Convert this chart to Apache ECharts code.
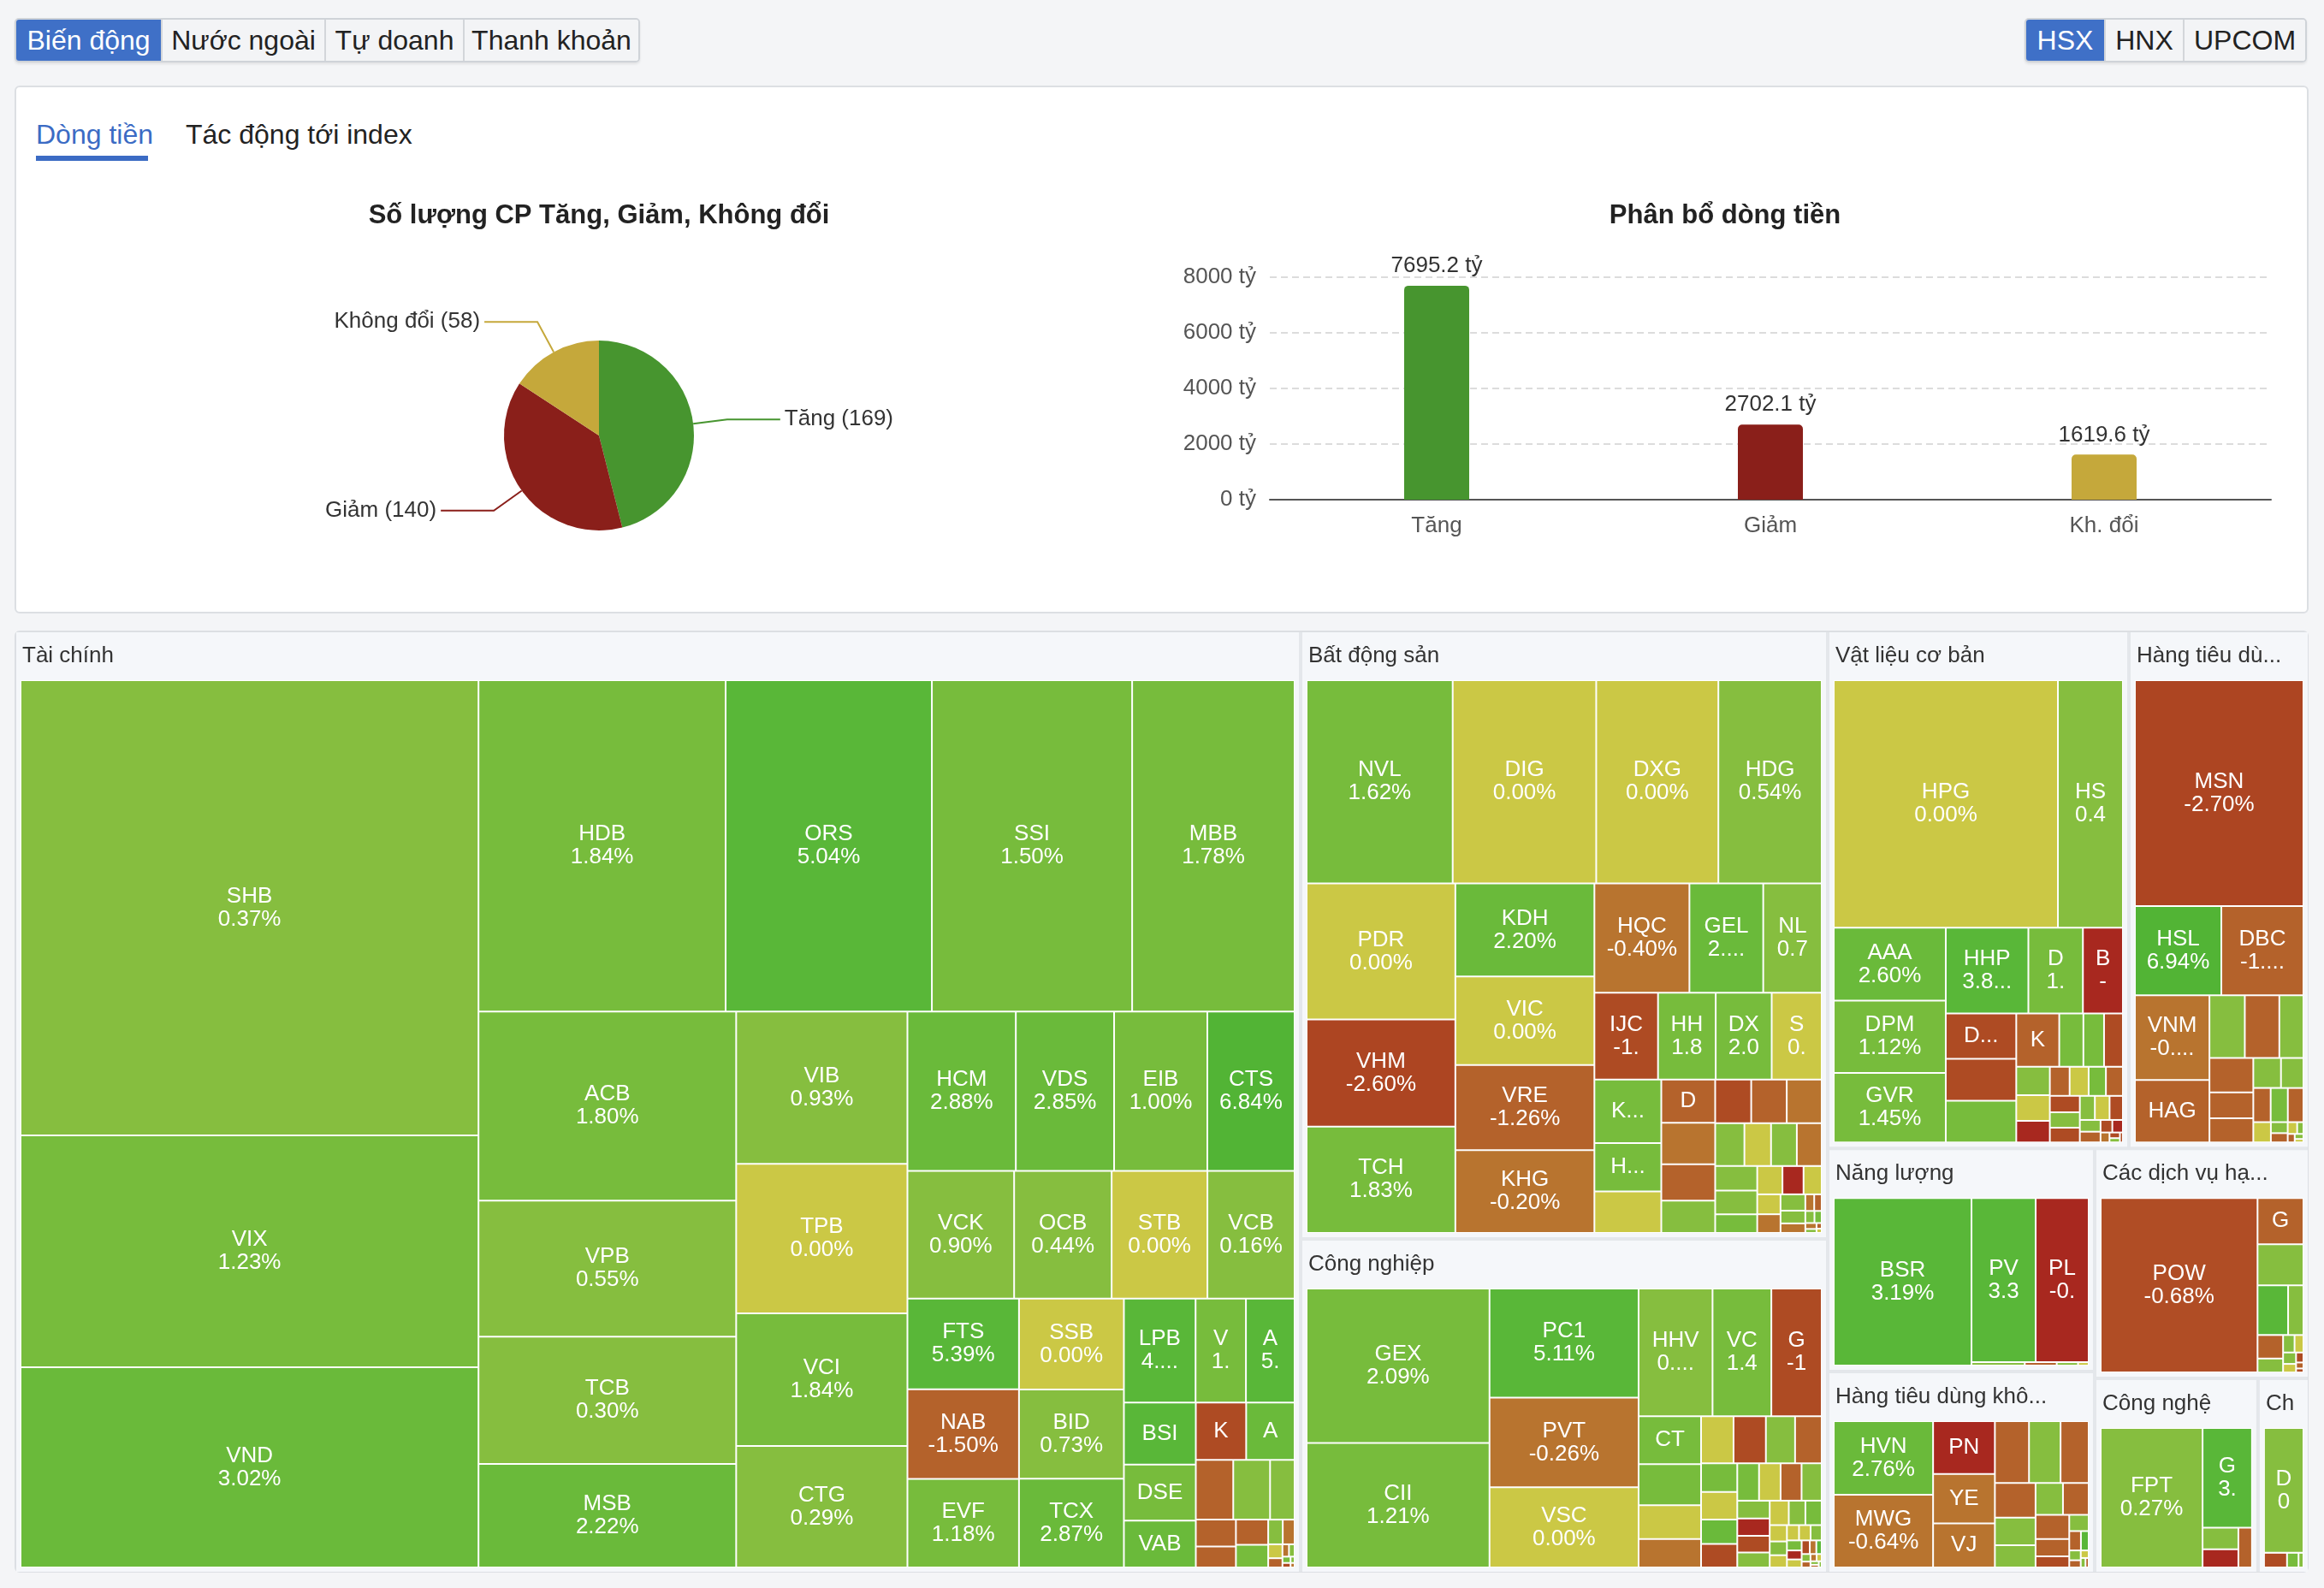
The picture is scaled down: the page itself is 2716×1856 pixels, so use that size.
<!DOCTYPE html>
<html>
<head>
<meta charset="utf-8">
<script src="https://cdn.jsdelivr.net/npm/echarts@6/dist/echarts.min.js"></script>
<style>
  html, body { margin: 0; padding: 0; }
  body { width: 2716px; height: 1856px; background: #f4f5f7; position: relative; overflow: hidden;
         font-family: "Liberation Sans", Arial, sans-serif; }
  .tabs { position: absolute; top: 21px; height: 52px; display: flex; box-sizing: border-box;
          border: 2px solid #cfd3d8; border-radius: 5px; overflow: hidden; box-shadow: 0 2px 3px rgba(0,0,0,0.08); }
  .tabs div { display: flex; align-items: center; justify-content: center; font-size: 32px; color: #222;
              background: #f3f4f6; border-left: 2px solid #d3d6da; box-sizing: border-box; }
  .tabs div:first-child { border-left: none; }
  .tabs div.on { background: #3f70c7; color: #fff; }
  .card { position: absolute; left: 17px; width: 2681px; box-sizing: border-box; background: #fff;
          border: 2px solid #dcdfe3; border-radius: 6px; }
  .sub { position: absolute; top: 138px; font-size: 32px; line-height: 38px; color: #222; }
  .sub.on { color: #3b6bc4; }
  .bar-on { position: absolute; left: 42px; top: 182px; width: 131px; height: 6px; background: #3b6bc4; }
  #chart { position: absolute; left: 0; top: 0; width: 2716px; height: 1856px; }
</style>
</head>
<body>
<div class="tabs" style="left:17px;width:731px">
  <div class="on" style="width:169px">Biến động</div>
  <div style="width:191px">Nước ngoài</div>
  <div style="width:162px">Tự doanh</div>
  <div style="width:205px">Thanh khoản</div>
</div>
<div class="tabs" style="left:2366px;width:330px">
  <div class="on" style="width:91px">HSX</div>
  <div style="width:92px">HNX</div>
  <div style="width:143px">UPCOM</div>
</div>
<div class="card" style="top:100px;height:617px"></div>
<div class="card" style="top:737px;height:1101px"></div>
<div class="sub on" style="left:42px">Dòng tiền</div>
<div class="sub" style="left:217px">Tác động tới index</div>
<div class="bar-on"></div>
<div id="chart"></div>
<script>
const FONT = '"Liberation Sans", Arial, sans-serif';

// so luong CP tang / giam / khong doi
const pieNames = ['Tăng', 'Giảm', 'Không đổi'];
const pieCounts = [169, 140, 58];
const upDownColors = ['#47952f', '#8a1f1a', '#c5a83b'];

// phan bo dong tien (ty)
const barCats = ['Tăng', 'Giảm', 'Kh. đổi'];
const barValues = [7695.2, 2702.1, 1619.6];

// treemap: nganh
const sectorNames = ['Tài chính', 'Bất động sản', 'Công nghiệp', 'Vật liệu cơ bản', 'Hàng tiêu dùng thiết yếu',
  'Năng lượng', 'Hàng tiêu dùng không thiết yếu', 'Các dịch vụ hạ tầng', 'Công nghệ', 'Chăm sóc sức khỏe'];
const sectorValue = [16563, 4380, 2409, 2130, 1277, 814, 736, 675, 435, 137];

const tcCodes = ['SHB','VIX','VND','HDB','ORS','SSI','MBB','ACB','VPB','TCB','MSB','VIB','TPB','VCI','CTG','HCM','VDS','EIB',
  'CTS','VCK','OCB','STB','VCB','FTS','NAB','EVF','SSB','BID','TCX','LPB','VMS','AGR','BSI','DSE','VAB','KLB','APG','BVH',
  'MIG','BMI','TVS','FIT','DSC','BIC','PGI','TVB','SBS','TCI','AAS','PVI','PSI','TIN','IVS','VIG'];
const tcValue = [2846, 1450, 1252, 1118, 933, 906, 735, 665, 479, 448, 364, 356, 350, 310, 284, 236, 214, 203, 190, 186, 170,
  167, 152, 138, 136.5, 135, 130, 128, 127, 101.6, 71.4, 69, 61, 55, 46, 39.5, 38, 30.5, 30, 20, 14.7, 11.5, 11.1, 10, 4.9,
  4.0, 2.7, 1.8, 1.1, 0.95, 0.7, 0.5, 0.35, 0.25];
const tcPct = [0.37, 1.23, 3.02, 1.84, 5.04, 1.50, 1.78, 1.80, 0.55, 0.30, 2.22, 0.93, 0.00, 1.84, 0.29, 2.88, 2.85, 1.00,
  6.84, 0.90, 0.44, 0.00, 0.16, 5.39, -1.50, 1.18, 0.00, 0.73, 2.87, 4.12, 1.15, 5.30, 3.50, 1.50, 2.40, -2.00, 2.50, -1.20,
  0.60, 0.50, -1.10, -1.10, -1.30, 1.20, 0.80, -0.50, 0.00, -1.10, -0.40, 0.60, 1.20, -2.00, 0.50, -0.30];

const bdsCodes = ['NVL','DIG','DXG','HDG','PDR','VHM','TCH','KDH','VIC','VRE','KHG','HQC','GEL','NLG','IJC','HHS','DXS',
  'SZC','KOS','HDC','SCR','DRH','LDG','CRE','ITC','QCG','NBB','HAR','TDC','SJS','NTL','D2D','ASM','HTN','CCL','VPI','FIR',
  'TIX','PTL','HPX','LHG','SGR','NVT','TN1','VRC','BCM','NHA','DTA','EVG','API','SIP'];
const bdsValue = [403.6, 396.5, 337.5, 285.6, 275, 216.3, 215, 175.5, 167.4, 161, 156.2, 141.1, 109.6, 86.9, 75, 68, 66,
  59, 57.8, 43.9, 37.7, 31.6, 30.4, 26.7, 23.6, 21.4, 21.1, 20.8, 17, 15.5, 15, 14.5, 14, 13.6, 10.6, 9.7, 8.1, 7, 6.3, 5.9,
  5.5, 4.3, 3.2, 2, 1.7, 1.5, 1.2, 0.9, 0.6, 0.4, 0.3];
const bdsPct = [1.62, 0, 0, 0.54, 0, -2.60, 1.83, 2.20, 0, -1.26, -0.20, -0.40, 2.31, 0.75, -1.74, 1.85, 2.04, 0, 1.20,
  1.50, 0, -1.10, -0.50, -1.20, 0.60, -2.00, -1.30, -0.40, 0.80, 0, 0.60, -0.30, 0.50, 0.70, 1.40, 0, -6.90, 0, 0, -0.40,
  0.60, 0.70, -0.50, -0.40, -1.10, 0.60, 1.20, -0.30, 0.50, -1.10, 0];

const cnCodes = ['GEX','CII','PC1','PVT','VSC','HHV','VCG','GMD','CTD','HAH','DPG','SCS','LCG','HTI','TCL','TMS','PHC',
  'SAM','TV2','VNE','HU1','TLD','DVP','CDC','HCD','VTO','PAC','SGN','FCN','C32','CRC','GEE','HMC','ILB','L10','MHC','PDN',
  'PTC','RAL','SRF','ST8','STG','TCO','TNA','TYA','VIP','VMD','VOS','VTB','SHI'];
const cnValue = [381.9, 308, 220, 180.6, 161.7, 127.6, 101.5, 87, 40.5, 34.8, 28.4, 24.1, 20.7, 20.6, 18.6, 17, 14, 13.5,
  12, 11.5, 11, 10.9, 10.6, 10.2, 7.8, 7.6, 7.3, 6.6, 6.3, 5.5, 5.4, 3.8, 3.2, 2.85, 2.5, 2.4, 2.3, 2, 1.8, 1.6, 1.5, 1.2,
  1, 0.9, 0.7, 0.6, 0.5, 0.4, 0.3, 0.25];
const cnPct = [2.09, 1.21, 5.11, -0.26, 0, 0.95, 1.42, -1.70, 1.30, 1.10, 0, -0.40, 0, -2.00, 0.80, -1.20, 1.10, 0, 2.50,
  -2.00, 1.10, 0, -1.20, 0.80, 0.60, -6.90, -2.00, 0.80, 0, 0.60, 1.30, 0, 0.80, 0, 0, 0, 0.60, 1.10, -6.90, 0, -2.00,
  -0.40, 4.00, 0.60, -1.10, -0.40, 0, 0.60, -1.10, 0.60];

const vlCodes = ['HPG','HSG','AAA','DPM','GVR','HHP','DCM','BFC','DGC','CSV','PHR','KSB','NKG','SMC','DHC','HT1','PLP',
  'VCA','BKG','TDP','DHA','NNC','HII','APH','ACC','SVI','TRC','CSM','SRC','DRC','PTB','HAP','LBM','HVX','VID','TNI'];
const vlValue = [752, 218, 110.5, 110, 105.3, 96, 63.4, 46.5, 43.2, 40, 39.8, 31, 17.4, 14.9, 13.6, 12.9, 11.7, 9.8, 7.8,
  7.5, 6.8, 6.7, 6.65, 6.3, 5.95, 4.9, 4.8, 4.35, 3.3, 3.0, 2.0, 1.8, 1.2, 0.8, 0.6, 0.4];
const vlPct = [0, 0.45, 2.60, 1.12, 1.45, 3.85, 1.30, -6.90, -2.20, -2.00, 1.60, -1.10, 1.20, 1.80, -2.10, 0.80, 0, -6.90,
  -1.10, 0, 1.20, -1.10, -2.00, 0.70, -2.00, 0.80, 0, -2.00, 0.70, -1.10, -2.00, -6.90, -0.40, -2.00, 0.50, -2.00];

const htdCodes = ['MSN','HSL','DBC','VNM','HAG','MML','VHC','ANV','SBT','PAN','BAF','IDI','LSS','SAB','FMC','CMX','TAC',
  'AAM','SSC','NAF','SMB','VCF','ABT','SBV'];
const htdValue = [513.5, 104, 98.8, 85.1, 62.8, 29.9, 29.2, 20.4, 20.3, 15.3, 14.3, 11.2, 9.1, 8, 7.9, 7.2, 4.8, 2.5, 2.1,
  1.5, 1.0, 0.8, 0.6, 0.4];
const htdPct = [-2.70, 6.94, -1.32, -0.31, -1.10, 0.60, -1.10, 0.60, -1.10, -1.10, -1.10, 0.60, 0.80, -1.10, 1.20, -1.10,
  0, 0.60, -1.10, 0, 0.60, -1.10, 0.50, 0];

const nlCodes = ['BSR','PVD','PLX','GAS','PVP','PGC','CNG'];
const nlValue = [315.6, 144, 119, 2.5, 1.5, 1, 0.5];
const nlPct = [3.19, 3.35, -0.95, 0.50, -1.10, 0.60, 0];

const hkCodes = ['HVN','MWG','PNJ','YEG','VJC','FRT','DGW','PET','MSH','TCM','GIL','STK','SVC','HAX','CTF','TLG','DAH',
  'EVE','GDT','TTF','AST','SFI','HTL','CLC'];
const hkValue = [96.9, 96, 43.3, 40.5, 36.2, 28, 25.9, 23.1, 18.7, 14.9, 12, 11.55, 10.85, 10.8, 7.75, 5, 4.2, 3, 2, 1.5,
  1.1, 0.8, 0.6, 0.4];
const hkPct = [2.76, -0.64, -0.95, -0.50, -0.40, -1.10, 0.60, -1.10, -1.10, 0.60, 0.80, 0.60, -1.10, -1.10, -1.10, -2.00,
  0.60, -1.10, 4.00, 0.60, -1.10, 0, 0.60, -1.10];

const cdvCodes = ['POW','GEG','NT2','PPC','TDM','VSH','BWE','SJD','KHP','CHP','TMP','BTP','DRL','SBA'];
const cdvValue = [369.2, 28.6, 25.5, 20.5, 10.3, 8.1, 4.8, 2.7, 2.1, 2.0, 1.5, 1.0, 0.6, 0.4];
const cdvPct = [-0.68, -1.20, 0.60, 4.00, 0.80, -1.10, 0.60, 0.60, 0, 0.60, 0, -2.00, -1.10, -2.00];

const cngCodes = ['FPT','GLT','ELC','ITD','SGT'];
const cngValue = [192.3, 66.7, 10.5, 8.8, 7.35];
const cngPct = [0.27, 3.40, 0.80, -6.90, -1.10];

const chCodes = ['DHG','IMP','DBD','DMC'];
const chValue = [61.2, 4.2, 2.1, 0.9];
const chPct = [0.80, -2.00, 1.20, 0.60];

// mau theo % thay doi
const toneLimits = [6.5, 3.1, 2.2, 1, 0.005, -0.005, -0.65, -0.9, -1, -1.6, -2.5, -5];
const toneColors = ['#52b435', '#59b738', '#6aba3a', '#77bc3c', '#86be3f', '#cbc845', '#b8742f', '#b04d25',
  '#a8281f', '#b4622b', '#ae4b23', '#ad4522', '#a8281f'];
function tone(p) {
  for (let i = 0; i < toneLimits.length; i++) {
    if (p >= toneLimits[i]) return toneColors[i];
  }
  return toneColors[toneColors.length - 1];
}

const sectorParts = [
  [tcCodes, tcValue, tcPct], [bdsCodes, bdsValue, bdsPct], [cnCodes, cnValue, cnPct], [vlCodes, vlValue, vlPct],
  [htdCodes, htdValue, htdPct], [nlCodes, nlValue, nlPct], [hkCodes, hkValue, hkPct], [cdvCodes, cdvValue, cdvPct],
  [cngCodes, cngValue, cngPct], [chCodes, chValue, chPct]
];

const treeData = sectorNames.map(function (name, s) {
  const part = sectorParts[s];
  return {
    name: name,
    value: sectorValue[s],
    children: part[0].map(function (code, i) {
      return { name: code, value: part[1][i], pct: part[2][i], itemStyle: { color: tone(part[2][i]) } };
    })
  };
});

const chart = echarts.init(document.getElementById('chart'));
chart.setOption({
  animation: false,
  textStyle: { fontFamily: FONT },
  graphic: [
    { type: 'text', x: 700, y: 252, silent: true,
      style: { text: 'Số lượng CP Tăng, Giảm, Không đổi', font: 'bold 31px ' + FONT, fill: '#222', align: 'center', verticalAlign: 'middle' } },
    { type: 'text', x: 2016, y: 252, silent: true,
      style: { text: 'Phân bổ dòng tiền', font: 'bold 31px ' + FONT, fill: '#222', align: 'center', verticalAlign: 'middle' } }
  ],
  grid: { left: 1484, top: 324, width: 1170, height: 260 },
  xAxis: {
    type: 'category', data: barCats,
    axisTick: { show: false },
    axisLine: { lineStyle: { color: '#555', width: 2 } },
    axisLabel: { fontSize: 26, color: '#555', margin: 18 }
  },
  yAxis: {
    type: 'value', min: 0, max: 8000, interval: 2000,
    axisLabel: { formatter: function (v) { return v + ' tỷ'; }, fontSize: 26, color: '#555', margin: 16 },
    splitLine: { lineStyle: { type: [8, 5], color: '#dcdcdc', width: 2 } }
  },
  series: [
    {
      type: 'pie', center: [700, 509], radius: 111, startAngle: 90, silent: true,
      data: pieNames.map(function (n, i) { return { name: n, value: pieCounts[i], itemStyle: { color: upDownColors[i] } }; }),
      label: { formatter: '{b} ({c})', fontSize: 26, color: '#333' },
      labelLine: { length: 40, length2: 62, lineStyle: { width: 2 } }
    },
    {
      type: 'bar', barWidth: 76, silent: true,
      data: barValues.map(function (v, i) { return { value: v, itemStyle: { color: upDownColors[i] } }; }),
      itemStyle: { borderRadius: [5, 5, 0, 0] },
      label: { show: true, position: 'top', distance: 10, formatter: '{c} tỷ', fontSize: 26, color: '#333' }
    },
    {
      type: 'treemap',
      left: 19, top: 739, width: 2678, height: 1098,
      roam: false, nodeClick: false,
      breadcrumb: { show: false },
      data: treeData,
      label: {
        show: true, position: 'inside', color: '#fff', fontSize: 26, lineHeight: 27, padding: [10, 12],
        formatter: function (p) { return p.name + '\n' + p.data.pct.toFixed(2) + '%'; }
      },
      upperLabel: { show: false },
      levels: [
        { itemStyle: { borderWidth: 0, gapWidth: 4, borderColor: '#e4e7eb' } },
        {
          itemStyle: { borderWidth: 5, gapWidth: 0, borderColor: '#f5f7fa' },
          upperLabel: { show: true, height: 56, color: '#333', fontSize: 26, padding: [0, 6, 0, 2], formatter: '{b}' }
        },
        { itemStyle: { borderWidth: 1, borderColor: '#fff', gapWidth: 0 } }
      ]
    }
  ]
});
</script>
</body>
</html>
